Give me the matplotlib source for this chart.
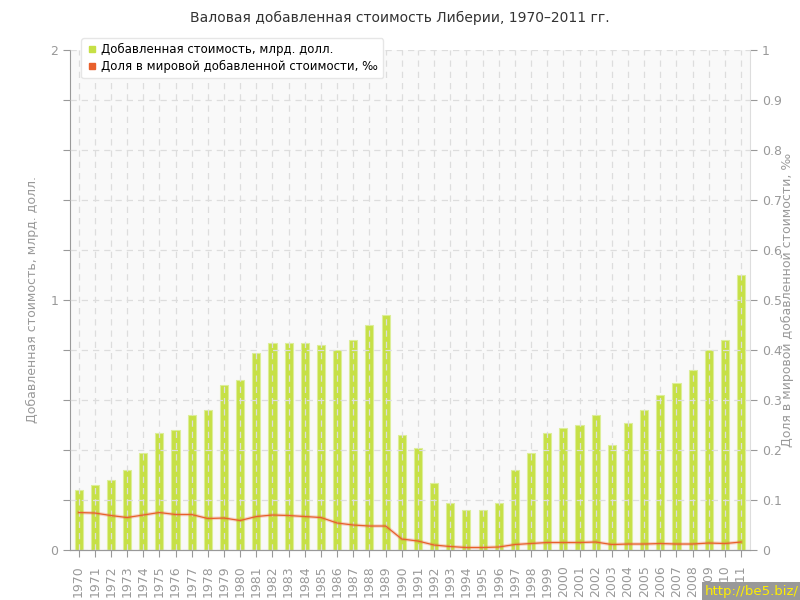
import matplotlib
matplotlib.use('Agg')
import matplotlib.pyplot as plt
import numpy as np

# Data
years = list(range(1970, 2012))
value_added = [0.24, 0.26, 0.28, 0.32, 0.39, 0.47, 0.48, 0.54, 0.56, 0.66,
               0.68, 0.79, 0.83, 0.83, 0.83, 0.82, 0.80, 0.84, 0.90, 0.94,
               0.46, 0.41, 0.27, 0.19, 0.16, 0.16, 0.19, 0.32, 0.39, 0.47,
               0.49, 0.50, 0.54, 0.42, 0.51, 0.56, 0.62, 0.67, 0.72, 0.80,
               0.84, 1.10]
world_share = [0.075, 0.074, 0.069, 0.065, 0.070, 0.075, 0.071, 0.071, 0.063, 0.064,
               0.059, 0.067, 0.070, 0.069, 0.067, 0.065, 0.054, 0.050, 0.048, 0.048,
               0.022, 0.018, 0.010, 0.007, 0.005, 0.005, 0.006, 0.011, 0.013, 0.015,
               0.015, 0.015, 0.016, 0.011, 0.012, 0.012, 0.013, 0.012, 0.012, 0.014,
               0.013, 0.016]

title = 'Валовая добавленная стоимость Либерии, 1970–2011 гг.'
label_left = 'Добавленная стоимость, млрд. долл.'
label_right = 'Доля в мировой добавленной стоимости, ‰'

grey = '#999999'
bar_color = '#c6e046'
line_color = '#e8602c'

fig = plt.figure(figsize=(8, 6), dpi=100)
ax = fig.add_axes([0.0875, 0.0833, 0.85, 0.8334])
ax2 = ax.twinx()

x = np.arange(len(years))
ax.set_facecolor('#f9f9f9')
ax.bar(x, value_added, width=0.5, color=bar_color, edgecolor='#dcee98',
       linewidth=0.8, zorder=2)

# line on secondary axis, with a soft halo
ax2.plot(x, world_share, color=line_color, alpha=0.25, linewidth=2.5, zorder=3)
ax2.plot(x, world_share, color=line_color, linewidth=0.9, zorder=4)

ax.set_xlim(-0.53, len(years) - 0.45)
ax.set_ylim(0, 2)
ax2.set_ylim(0, 1)

# grid
ax.set_yticks(np.arange(0, 2.01, 0.2))
ax.set_yticklabels(['0', '', '', '', '', '1', '', '', '', '', '2'])
ax.set_xticks(x)
ax.set_xticklabels([str(y) for y in years], rotation=90)
ax.grid(True, color='#dddddd', linestyle=(0, (5, 4)), linewidth=0.9)
ax.set_axisbelow(False)
for line in ax.get_xgridlines() + ax.get_ygridlines():
    line.set_zorder(2.5)

ax2.set_yticks(np.arange(0, 1.01, 0.1))
ax2.set_yticklabels(['0', '0.1', '0.2', '0.3', '0.4', '0.5', '0.6', '0.7', '0.8', '0.9', '1'])

for a in (ax, ax2):
    a.spines['top'].set_visible(False)
    a.spines['left'].set_color(grey)
    a.spines['right'].set_color('#dddddd')
    a.spines['bottom'].set_color(grey)
    a.tick_params(colors=grey, labelsize=9, length=5, width=0.8)
ax.spines['right'].set_visible(False)
ax2.spines['left'].set_visible(False)
ax.tick_params(axis='x', labelsize=9, length=5, pad=6)

ax.set_ylabel(label_left, color=grey, fontsize=9)
ax2.set_ylabel(label_right, color=grey, fontsize=9)
ax.yaxis.set_label_coords(-0.045, 0.5)
ax2.yaxis.set_label_coords(1.045, 0.5)

fig.text(0.5, 0.97, title, ha='center', va='center', fontsize=10, color='#333333')

# legend
handles = [plt.Line2D([], [], marker='s', linestyle='', color=bar_color, markersize=4.5),
           plt.Line2D([], [], marker='s', linestyle='', color=line_color, markersize=4.5)]
leg = ax2.legend(handles, ['Добавленная стоимость, млрд. долл.', label_right],
                 loc='upper left', bbox_to_anchor=(0.008, 1.035), fontsize=8.5,
                 frameon=True, fancybox=True, shadow=False, handletextpad=0.3,
                 borderpad=0.4, labelspacing=0.35, handlelength=1)
leg.get_frame().set_edgecolor('#e6e6e6')
leg.get_frame().set_facecolor('white')
leg.get_frame().set_alpha(1)
leg.set_zorder(10)

# watermark
fig.text(0.999, 0.003, 'http://be5.biz/', ha='right', va='bottom', fontsize=9.5,
         color='#ffee00', bbox=dict(facecolor='#999999', edgecolor='none', pad=2))

plt.savefig('out.png', dpi=100, facecolor='white')
plt.close(fig)
